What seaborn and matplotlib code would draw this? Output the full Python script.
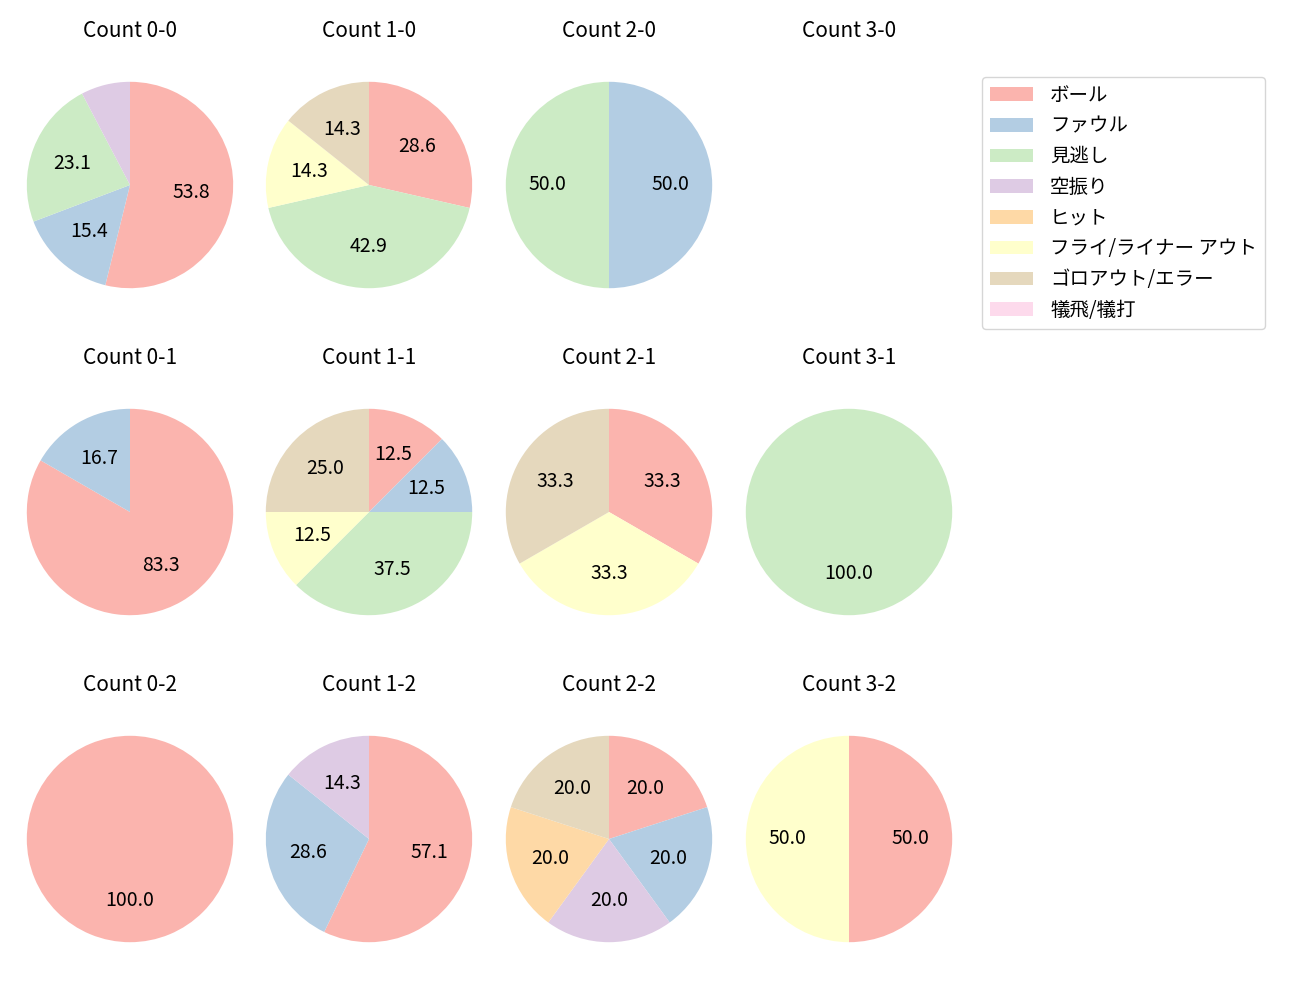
import numpy as np
import matplotlib
matplotlib.use('Agg')
import matplotlib.pyplot as plt
from matplotlib.patches import Patch
import seaborn as sns

sns.set_style('white')
plt.rcParams['font.family'] = ['Noto Sans CJK JP', 'DejaVu Sans']
plt.rcParams['text.color'] = 'black'

# ── Data ─────────────────────────────────────────────────────
results = ['ボール', 'ファウル', '見逃し', '空振り', 'ヒット',
           'フライ/ライナー アウト', 'ゴロアウト/エラー', '犠飛/犠打']

# pitch counts per result, same order as results
counts = {
    '0-0': [7, 2, 3, 1, 0, 0, 0, 0],
    '1-0': [2, 0, 3, 0, 0, 1, 1, 0],
    '2-0': [0, 1, 1, 0, 0, 0, 0, 0],
    '3-0': [0, 0, 0, 0, 0, 0, 0, 0],
    '0-1': [5, 1, 0, 0, 0, 0, 0, 0],
    '1-1': [1, 1, 3, 0, 0, 1, 2, 0],
    '2-1': [1, 0, 0, 0, 0, 1, 1, 0],
    '3-1': [0, 0, 1, 0, 0, 0, 0, 0],
    '0-2': [1, 0, 0, 0, 0, 0, 0, 0],
    '1-2': [4, 2, 0, 1, 0, 0, 0, 0],
    '2-2': [1, 1, 0, 1, 1, 0, 1, 0],
    '3-2': [1, 0, 0, 0, 0, 1, 0, 0],
}
balls = [0, 1, 2, 3]
strikes = [0, 1, 2]

colors = sns.color_palette('Pastel1', 8)

# ── Figure ───────────────────────────────────────────────────
W, H = 1300, 1000
fig = plt.figure(figsize=(13, 10), dpi=100)

col_x = [130, 369, 609, 849]
row_y = [185, 512, 839]
size = 258

for s in strikes:
    for b in balls:
        key = f'{b}-{s}'
        cx, cy = col_x[b], row_y[s]
        ax = fig.add_axes([(cx - size / 2) / W, (H - cy - size / 2) / H,
                           size / W, size / H])
        vals = np.array(counts[key])
        mask = vals > 0
        if mask.any():
            ax.pie(vals[mask], colors=[c for c, m in zip(colors, mask) if m],
                   startangle=90, counterclock=False,
                   autopct=lambda p: f'{p:.1f}' if p >= 10 else '',
                   wedgeprops={'linewidth': 0},
                   textprops={'fontsize': 14})
        else:
            ax.set_xlim(-1.25, 1.25)
            ax.set_ylim(-1.25, 1.25)
            ax.set_aspect('equal')
        ax.axis('off')
        ax.set_title(f'Count {key}', fontsize=15, pad=14)

handles = [Patch(facecolor=c, edgecolor='none') for c in colors]
fig.legend(handles, results, loc='upper left',
           bbox_to_anchor=(982 / W, 1 - 77 / H), borderaxespad=0,
           fontsize=14, handlelength=2.2, handleheight=0.7,
           handletextpad=0.9, labelspacing=0.5)

plt.savefig('out.png', dpi=100)
plt.close()
